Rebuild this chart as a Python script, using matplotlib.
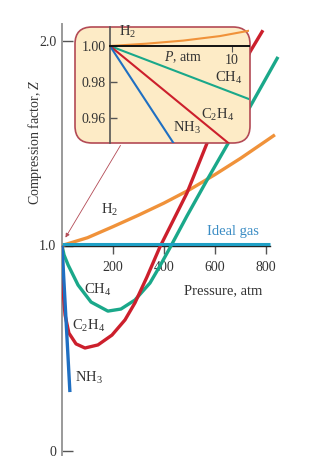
import matplotlib
matplotlib.use("Agg")
import matplotlib.pyplot as plt
from matplotlib.patches import FancyBboxPatch
from matplotlib.transforms import ScaledTranslation

plt.rcParams['font.family'] = ['Liberation Serif', 'DejaVu Serif']
plt.rcParams['mathtext.fontset'] = 'custom'
plt.rcParams['mathtext.rm'] = 'Liberation Serif'
plt.rcParams['mathtext.it'] = 'Liberation Serif:italic'

# main plot, pressure in atm, Z
h2_p = [0, 100, 200, 300, 400, 500, 600, 700, 800, 835]
h2_z = [1.0, 1.038, 1.092, 1.148, 1.207, 1.272, 1.346, 1.425, 1.51, 1.54]

ch4_p = [0, 8, 24, 63, 114, 180, 231, 286, 345, 384, 423, 490, 569, 659, 737, 847]
ch4_z = [1.0, 0.954, 0.905, 0.807, 0.724, 0.680, 0.690, 0.734, 0.817, 0.900,
         0.988, 1.144, 1.320, 1.515, 1.676, 1.920]

c2h4_p = [0, 2, 4, 12, 27, 55, 90, 141, 196, 247, 286, 333, 384, 490, 569, 659, 737, 788]
c2h4_z = [1.0, 0.905, 0.783, 0.661, 0.573, 0.520, 0.500, 0.515, 0.563, 0.637,
          0.720, 0.846, 0.993, 1.256, 1.500, 1.734, 1.944, 2.05]

nh3_p = [0, 10, 20, 31]
nh3_z = [1.0, 0.77, 0.54, 0.285]

ideal_p = [0, 815]
ideal_z = [1.0, 1.0]

x_ticks = [200, 400, 600, 800]
y_ticks = [0, 1, 2]
y_labels = ['0', '1.0', '2.0']

# inset, low pressure
in_h2_p = [0, 3, 6, 9, 11.4]
in_h2_z = [1.0, 1.0013, 1.003, 1.0055, 1.0085]
in_ch4_p = [0, 11.4]
in_ch4_z = [1.0, 0.9705]
in_c2h4_p = [0, 9.7]
in_c2h4_z = [1.0, 0.9461]
in_nh3_p = [0, 5.2]
in_nh3_z = [1.0, 0.9461]
in_y_ticks = [1.00, 0.98, 0.96]
in_y_labels = ['1.00', '0.98', '0.96']

c_h2 = '#f0923a'
c_ch4 = '#1aa88a'
c_c2h4 = '#cc1f2c'
c_nh3 = '#1f6fc2'
c_ideal = '#1fa0c6'
c_box = '#b34a55'
c_txt = '#333333'

W, H = 323, 472
fig = plt.figure(figsize=(W / 100, H / 100), dpi=100)

def fx(px):
    return px / W

def fy(py):
    return 1 - py / H

# main axes: P=0 at x=62px, 0.255 px/atm ; Z=0 at y=450.5px, 205 px/unit
x0, sx = 62, 0.255
y0, sy = 450.5, 205
right_px, top_px, bot_px = 282, 20, 455
ax = fig.add_axes([fx(x0), fy(bot_px), (right_px - x0) / W, (bot_px - top_px) / H])
ax.set_xlim(0, (right_px - x0) / sx)
ax.set_ylim((y0 - bot_px) / sy, (y0 - top_px) / sy)
ax.patch.set_visible(False)

for s in ['top', 'right']:
    ax.spines[s].set_visible(False)
ax.spines['left'].set_color('#9a9a9a')
ax.spines['left'].set_linewidth(1.4)
ax.spines['left'].set_bounds(-0.02, 2.08)
ax.spines['bottom'].set_position(('data', 1.0))
ax.spines['bottom'].set_bounds(0, 815)
ax.spines['bottom'].set_color('#222222')
ax.spines['bottom'].set_linewidth(1.0)

ax.set_yticks(y_ticks, y_labels)
ax.tick_params(axis='y', direction='in', length=8, width=1.0, color='#555555',
               labelsize=10, pad=4, labelcolor=c_txt)
ax.set_xticks(x_ticks)
ax.tick_params(axis='x', direction='out', length=6, width=1.0, color='#555555',
               labelsize=10, pad=5, labelcolor=c_txt)

lw = 2.4
ax.plot(h2_p, h2_z, color=c_h2, lw=lw, solid_capstyle='butt', zorder=3)
ax.plot(ch4_p, ch4_z, color=c_ch4, lw=lw, solid_capstyle='butt', zorder=3)
ax.plot(c2h4_p, c2h4_z, color=c_c2h4, lw=lw, solid_capstyle='butt', zorder=3)
ax.plot(nh3_p, nh3_z, color=c_nh3, lw=lw, solid_capstyle='butt', zorder=3)
up = ax.transData + ScaledTranslation(0, 1.2 / 72, fig.dpi_scale_trans)
ax.plot(ideal_p, ideal_z, color=c_ideal, lw=2.2, solid_capstyle='butt', zorder=4,
        transform=up)

fs = 10.5
ax.text(188, 1.173, 'H$_2$', fontsize=fs, ha='center', va='center', color=c_txt)
ax.text(672, 1.066, 'Ideal gas', fontsize=fs, ha='center', va='center', color='#3a8cc4')
ax.text(632, 0.78, 'Pressure, atm', fontsize=fs, ha='center', va='center', color=c_txt)
ax.text(140, 0.783, 'CH$_4$', fontsize=fs, ha='center', va='center', color=c_txt)
ax.text(104, 0.61, 'C$_2$H$_4$', fontsize=fs, ha='center', va='center', color=c_txt)
ax.text(104, 0.353, 'NH$_3$', fontsize=fs, ha='center', va='center', color=c_txt)

fig.text(fx(35), fy(142), 'Compression factor, $Z$', rotation=90, fontsize=10,
         ha='center', va='center', color=c_txt)

# arrow from inset to origin
ax.annotate('', xy=(8, 1.027), xytext=(235, 1.5),
            arrowprops=dict(arrowstyle='-|>', color=c_box, lw=0.6,
                            mutation_scale=6), zorder=2)

# rounded inset box (inch units so the corners stay round)
bx0, bx1, by0, by1 = 75, 250, 27, 143
box = FancyBboxPatch((bx0 / 100, (H - by1) / 100), (bx1 - bx0) / 100, (by1 - by0) / 100,
                     boxstyle='round,pad=0,rounding_size=0.17',
                     transform=fig.dpi_scale_trans, facecolor='#fdebc6',
                     edgecolor=c_box, lw=1.2, zorder=5)
fig.add_artist(box)

ix0, isx = 110, 12.2
iy0, isy = 46, 1800
ileft, iright, itop, ibot = 110, 249, 27, 143
ins = fig.add_axes([fx(ileft), fy(ibot), (iright - ileft) / W, (ibot - itop) / H])
ins.set_zorder(6)
ins.patch.set_visible(False)
ins.set_xlim(0, (iright - ix0) / isx)
ins.set_ylim(1 - (ibot - iy0) / isy, 1 + (iy0 - itop) / isy)
for s in ['top', 'right']:
    ins.spines[s].set_visible(False)
ins.spines['left'].set_color('#555555')
ins.spines['left'].set_linewidth(1.2)
ins.spines['bottom'].set_position(('data', 1.0))
ins.spines['bottom'].set_color('#111111')
ins.spines['bottom'].set_linewidth(1.4)
ins.set_yticks(in_y_ticks, in_y_labels)
ins.tick_params(axis='y', direction='in', length=5, width=1.0, color='#555555',
                labelsize=10, pad=3, labelcolor=c_txt)
ins.set_xticks([10])
ins.tick_params(axis='x', direction='out', length=4, width=0.8, color='#555555',
                labelsize=10, pad=2, labelcolor=c_txt)

ilw = 1.5
ins.plot(in_h2_p, in_h2_z, color=c_h2, lw=ilw)
ins.plot(in_ch4_p, in_ch4_z, color=c_ch4, lw=ilw)
ins.plot(in_c2h4_p, in_c2h4_z, color=c_c2h4, lw=ilw)
ins.plot(in_nh3_p, in_nh3_z, color=c_nh3, lw=ilw)

ifs = 10.5
ins.text(0.7, 1.0077, 'H$_2$', fontsize=ifs, ha='left', va='center', color=c_txt)
ins.text(6.0, 0.9939, '$P$, atm', fontsize=10, ha='center', va='center', color=c_txt)
ins.text(9.7, 0.982, 'CH$_4$', fontsize=ifs, ha='center', va='center', color=c_txt)
ins.text(8.8, 0.9617, 'C$_2$H$_4$', fontsize=ifs, ha='center', va='center', color=c_txt)
ins.text(6.3, 0.9544, 'NH$_3$', fontsize=ifs, ha='center', va='center', color=c_txt)

fig.savefig('out.png', dpi=100)
